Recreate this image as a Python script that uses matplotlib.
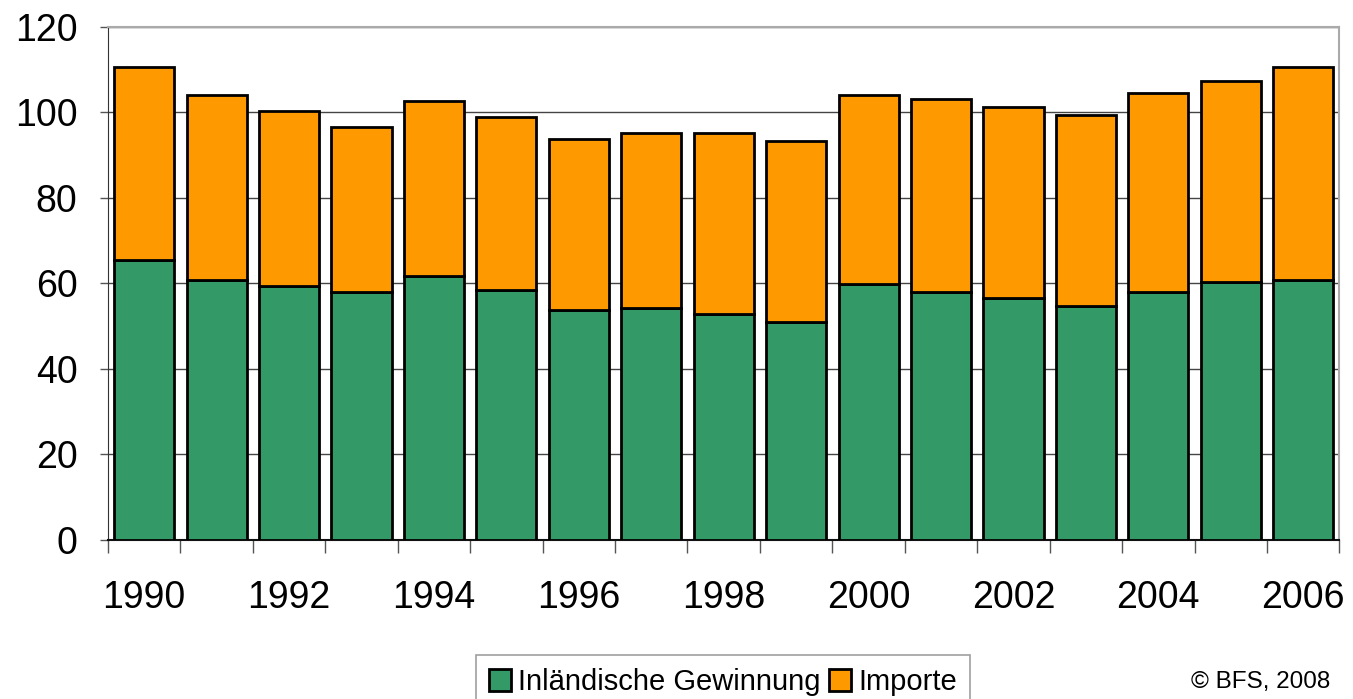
import numpy as np
import matplotlib
matplotlib.use("Agg")
import matplotlib.pyplot as plt

plt.rcParams['font.family'] = ['Liberation Sans', 'DejaVu Sans']

# data
years = list(range(1990, 2007))
total = [110.7, 104.2, 100.4, 96.7, 102.7, 98.9, 93.9, 95.2, 95.2, 93.4,
         104.2, 103.2, 101.3, 99.4, 104.6, 107.4, 110.7]
inland = [65.5, 60.8, 59.4, 58.0, 61.7, 58.4, 53.9, 54.3, 52.9, 51.0,
          59.8, 58.0, 56.7, 54.8, 58.0, 60.4, 60.8]
importe = [t - g for t, g in zip(total, inland)]
yticks = [0, 20, 40, 60, 80, 100, 120]
label_years = [y for y in years if y % 2 == 0]

fig = plt.figure(figsize=(13.53, 6.99), dpi=100)
ax = fig.add_axes([0.0798, 0.2275, 0.9102, 0.7339])

x = np.arange(len(years))
ax.bar(x, inland, width=0.83, color="#339966", edgecolor="black", linewidth=2,
       label="Inländische Gewinnung", zorder=3)
ax.bar(x, importe, bottom=inland, width=0.83, color="#FF9900", edgecolor="black",
       linewidth=2, label="Importe", zorder=3)

ax.set_xlim(-0.5, len(years) - 0.5)
ax.set_ylim(0, 120)

# y axis
ax.set_yticks(yticks)
ax.tick_params(axis="y", direction="out", length=6, width=1, color="#555555",
               labelsize=27, pad=16)
ax.yaxis.grid(True, color="#444444", linewidth=1.0, zorder=0)

# x axis: ticks between bars, labels under even years
ax.set_xticks(np.arange(-0.5, len(years), 1.0))
ax.set_xticklabels([])
ax.tick_params(axis="x", which="major", direction="out", length=9, width=1, color="#555555")
ax.set_xticks([years.index(y) for y in label_years], minor=True)
ax.set_xticklabels([str(y) for y in label_years], minor=True)
ax.tick_params(axis="x", which="minor", length=0, labelsize=27, pad=29)

for s in ["top", "right"]:
    ax.spines[s].set_color("#aaaaaa")
    ax.spines[s].set_linewidth(1.5)
ax.spines["left"].set_color("#333333")
ax.spines["bottom"].set_color("#111111")
ax.spines["bottom"].set_linewidth(1.5)
ax.set_axisbelow(True)

leg = fig.legend(loc="upper center", bbox_to_anchor=(0.5345, 0.0625), ncol=2,
                 fontsize=21, frameon=True, fancybox=False, edgecolor="#888888",
                 handlelength=0.75, handleheight=0.8, handletextpad=0.25,
                 columnspacing=0.3, borderpad=0.45, borderaxespad=0)
leg.get_frame().set_linewidth(1.2)

fig.text(0.983, 0.025, "© BFS, 2008", ha="right", va="center", fontsize=17.5)

fig.savefig("out.png", dpi=100)
